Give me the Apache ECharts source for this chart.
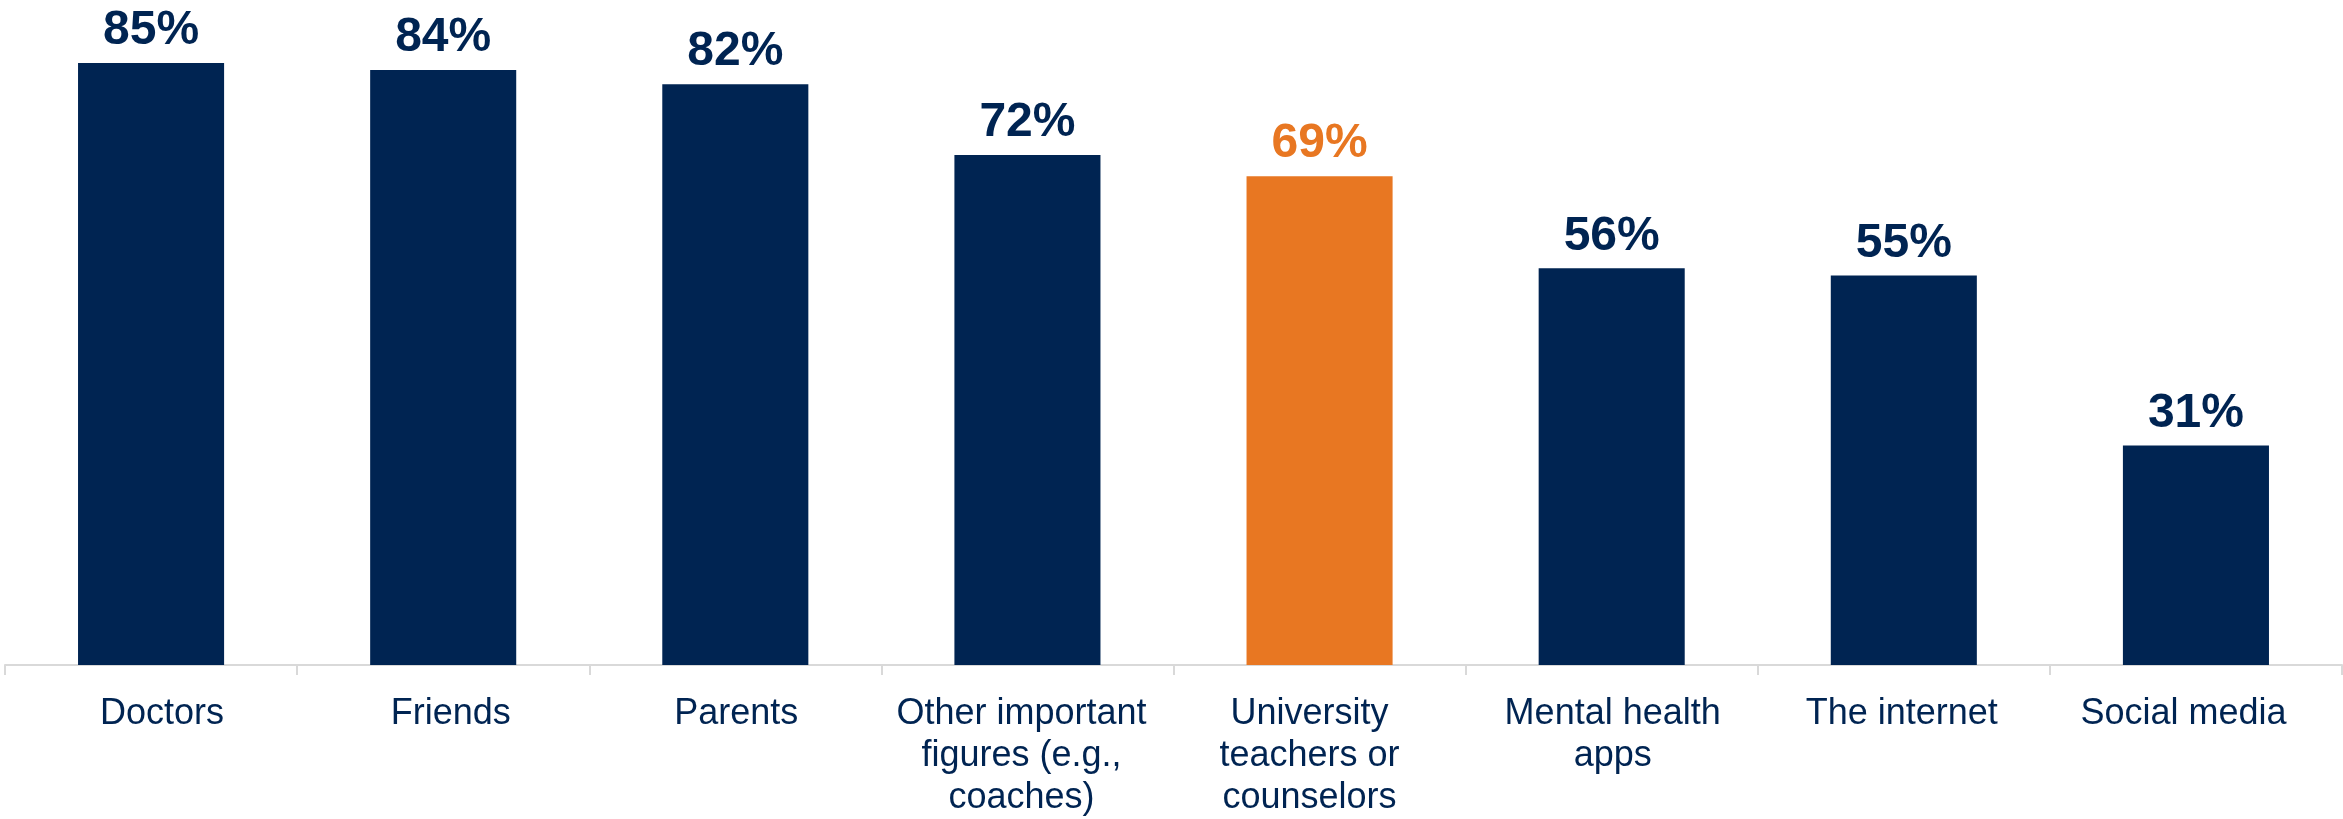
<!DOCTYPE html>
<html>
<head>
<meta charset="utf-8">
<script src="https://cdn.jsdelivr.net/npm/echarts@6/dist/echarts.min.js"></script>
<style>
  html, body { margin: 0; padding: 0; background: #ffffff; }
  #chart { width: 2343px; height: 819px; }
</style>
</head>
<body>
<div id="chart"></div>
<script>
// Sources trusted for mental health information (share of respondents)
const categories = [
  'Doctors',
  'Friends',
  'Parents',
  'Other important\nfigures (e.g.,\ncoaches)',
  'University\nteachers or\ncounselors',
  'Mental health\napps',
  'The internet',
  'Social media'
];
const values = [85, 84, 82, 72, 69, 56, 55, 31];
const highlighted = ['University\nteachers or\ncounselors'];

const NAVY = '#002452';
const ORANGE = '#E87722';
const TEXT = '#002452';

// small horizontal nudges (px) for the category labels, left to right
const labelNudge = [11, 7.5, 1, -6, -10, 1, -2, -12.5];

const chart = echarts.init(document.getElementById('chart'), null, { renderer: 'canvas' });

const barData = values.map((v, i) => {
  const hi = highlighted.includes(categories[i]);
  return {
    value: v,
    itemStyle: { color: hi ? ORANGE : NAVY },
    label: { color: hi ? ORANGE : TEXT }
  };
});

const axisData = categories.map((name, i) => {
  const n = labelNudge[i];
  return {
    value: name,
    textStyle: { padding: n >= 0 ? [0, 0, 0, 2 * n] : [0, -2 * n, 0, 0] }
  };
});

chart.setOption({
  animation: false,
  backgroundColor: '#ffffff',
  grid: { left: 5, right: 1, top: 27.5, bottom: 153, containLabel: false },
  xAxis: {
    type: 'category',
    data: axisData,
    boundaryGap: true,
    axisLine: { show: true, lineStyle: { color: '#d9d9d9', width: 2 } },
    axisTick: { show: true, alignWithLabel: false, length: 10, lineStyle: { color: '#d9d9d9', width: 2 } },
    axisLabel: {
      interval: 0,
      margin: 28,
      color: TEXT,
      fontFamily: 'Liberation Sans, Arial, sans-serif',
      fontSize: 36,
      lineHeight: 42,
      align: 'center'
    }
  },
  yAxis: {
    type: 'value',
    min: 0,
    max: 90,
    show: false,
    splitLine: { show: false }
  },
  series: [{
    type: 'bar',
    data: barData,
    barWidth: '50%',
    label: {
      show: true,
      position: 'top',
      distance: 8,
      formatter: '{c}%',
      fontFamily: 'Liberation Sans, Arial, sans-serif',
      fontWeight: 'bold',
      fontSize: 48
    }
  }]
});
</script>
</body>
</html>
